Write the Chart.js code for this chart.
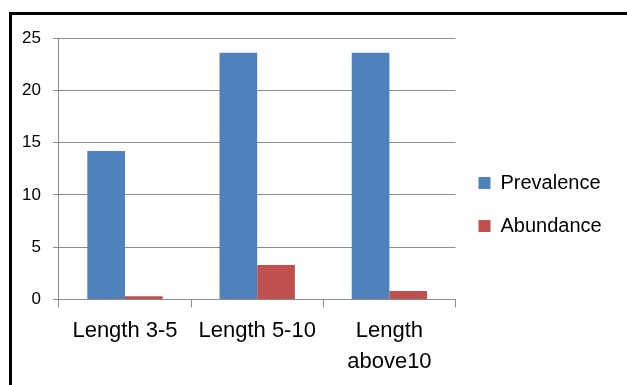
<!DOCTYPE html>
<html>
<head>
<meta charset="utf-8">
<script src="https://cdn.jsdelivr.net/npm/chart.js@4/dist/chart.umd.min.js"></script>
<style>
  html, body { margin: 0; padding: 0; background: #fff; }
  #wrap { position: relative; width: 627px; height: 385px; overflow: hidden; }
  #frame {
    position: absolute; left: 9px; top: 12px; width: 700px; height: 500px;
    border-left: 3px solid #000; border-top: 3px solid #000; pointer-events: none;
  }
</style>
</head>
<body>
<div id="wrap">
  <canvas id="chart" width="627" height="385"></canvas>
  <div id="frame"></div>
</div>
<script>
// ── Données ──────────────────────────────────────────────────────
const categories = ['Length 3-5', 'Length 5-10', ['Length', 'above10']];
const prevalence = [14.2, 23.6, 23.6];
const abundance = [0.3, 3.3, 0.8];
const yTicks = [0, 5, 10, 15, 20, 25];

const COLORS = { blue: '#4F81BD', red: '#C0504D', grid: '#8c8c8c' };
const FONT = "'Liberation Sans', Arial, sans-serif";

// remonte un peu la légende (centrée plus haut que la zone du graphique)
const legendNudge = {
    id: 'legendNudge',
    afterLayout(chart) {
        const lg = chart.legend;
        if (!lg) return;
        lg.top -= 7;
        lg.bottom -= 7;
    },
};

new Chart(document.getElementById('chart'), {
    type: 'bar',
    data: {
        labels: categories,
        datasets: [
            { label: 'Prevalence', data: prevalence, backgroundColor: COLORS.blue },
            { label: 'Abundance', data: abundance, backgroundColor: COLORS.red },
        ],
    },
    options: {
        responsive: false,
        animation: false,
        events: [],
        layout: { padding: { left: 10, top: 38, right: 23, bottom: 0 } },
        datasets: { bar: { barPercentage: 1, categoryPercentage: 0.57 } },
        scales: {
            x: {
                grid: {
                    offset: true, drawOnChartArea: false, drawTicks: true,
                    tickLength: 8, color: COLORS.grid,
                },
                border: { color: COLORS.grid },
                ticks: {
                    color: '#000', padding: 8,
                    font: { family: FONT, size: 22, lineHeight: 1.4 },
                    maxRotation: 0, autoSkip: false,
                },
            },
            y: {
                min: 0, max: 25,
                afterBuildTicks: axis => { axis.ticks = yTicks.map(v => ({ value: v })); },
                grid: { color: COLORS.grid, tickLength: 6 },
                border: { color: COLORS.grid },
                ticks: { color: '#000', padding: 12, font: { family: FONT, size: 17 } },
            },
        },
        plugins: {
            legend: {
                position: 'right',
                labels: {
                    color: '#000', boxWidth: 12, boxHeight: 12, padding: 23,
                    font: { family: FONT, size: 20 },
                },
            },
            tooltip: { enabled: false },
        },
    },
    plugins: [legendNudge],
});
</script>
</body>
</html>
